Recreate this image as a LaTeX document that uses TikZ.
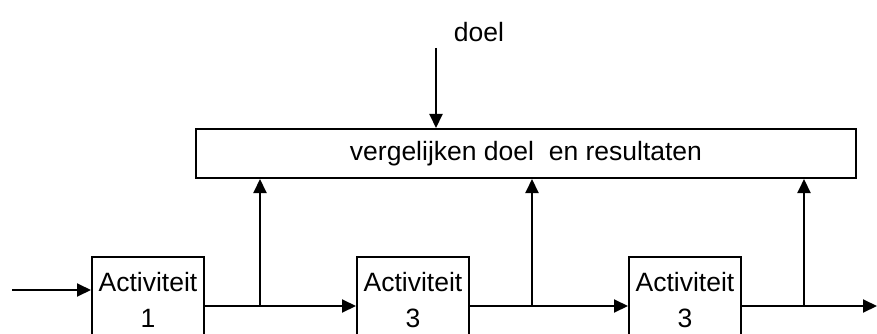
\documentclass[tikz,border=0pt]{standalone}
\usepackage{fontspec}
\setmainfont{Liberation Sans}
\usetikzlibrary{arrows.meta}
\begin{document}
\begin{tikzpicture}[x=1pt,y=-1pt,
  line width=2pt,
  every node/.style={font=\fontsize{26.5}{31}\selectfont},
  actbox/.style={draw,rectangle,minimum width=112pt,minimum height=86pt,align=center,inner sep=0pt},
  bigbox/.style={draw,rectangle,minimum width=660pt,minimum height=49pt,inner sep=0pt},
  arr/.style={-{Triangle[length=14pt,width=13pt]}}]
\useasboundingbox (0,0) rectangle (877,334);
\clip (0,0) rectangle (877,334);
\node[bigbox] (cmp) at (526,153.5) {vergelijken doel\ \ en resultaten};
\node (doel) at (479,32) {doel};
\node[actbox] (a1) at (148,300) {Activiteit\\[5pt]1};
\node[actbox] (a2) at (413,300) {Activiteit\\[5pt]3};
\node[actbox] (a3) at (685,300) {Activiteit\\[5pt]3};
\coordinate (dtop) at (436,48);
\coordinate (in) at (12,290);
\coordinate (out) at (877,306);
\coordinate (b1) at (260,306);
\coordinate (b2) at (532,306);
\coordinate (b3) at (804,306);
\draw[arr] (dtop) -- (dtop |- cmp.north);
\draw[arr] (in) -- (in -| a1.west);
\draw[arr] (a1.east |- b1) -- (a2.west |- b1);
\draw[arr] (a2.east |- b2) -- (a3.west |- b2);
\draw[arr] (a3.east |- b3) -- (out);
\draw[arr] (b1) -- (b1 |- cmp.south);
\draw[arr] (b2) -- (b2 |- cmp.south);
\draw[arr] (b3) -- (b3 |- cmp.south);
\end{tikzpicture}
\end{document}
